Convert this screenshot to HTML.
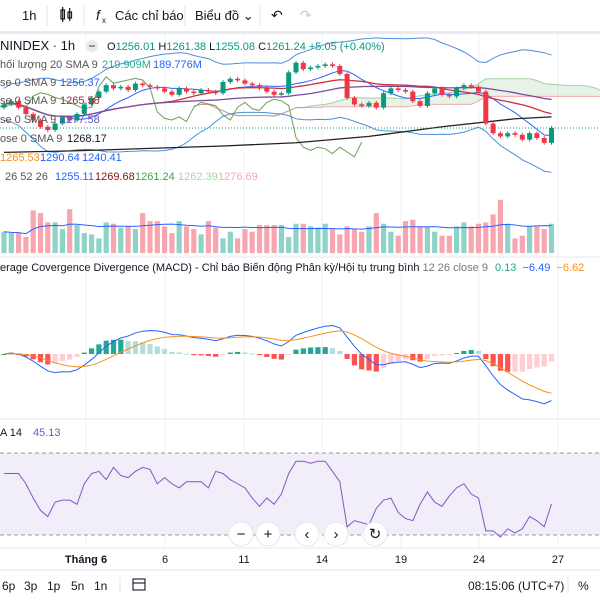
<!DOCTYPE html>
<html><head><meta charset="utf-8">
<style>
html,body{margin:0;padding:0;background:#fff;}
svg{display:block;font-family:"Liberation Sans","Noto Sans CJK SC",sans-serif;}
</style></head>
<body>
<svg id="chart" width="600" height="600" viewBox="0 0 600 600">
  <rect x="0" y="0" width="600" height="600" fill="#fff"/>
  <g font-size="13" fill="#131722">
    <text x="22" y="20">1h</text>
    <line x1="47" y1="6" x2="47" y2="26" stroke="#e0e3eb"/>
    <g stroke="#131722" fill="none" stroke-width="1.2">
      <rect x="61" y="10" width="3.5" height="9"/><line x1="62.7" y1="7" x2="62.7" y2="22"/>
      <rect x="68" y="12" width="3.5" height="6"/><line x1="69.7" y1="8" x2="69.7" y2="21"/>
    </g>
    <line x1="84" y1="6" x2="84" y2="26" stroke="#e0e3eb"/>
    <text x="96" y="20" font-style="italic" font-size="14">f</text>
    <text x="102" y="23" font-size="8">x</text>
    <text x="115" y="20">Các chỉ báo</text>
    <line x1="185" y1="6" x2="185" y2="26" stroke="#e0e3eb"/>
    <text x="195" y="20">Biểu đồ ⌄</text>
    <line x1="260" y1="6" x2="260" y2="26" stroke="#e0e3eb"/>
    <text x="271" y="20" font-size="14">↶</text>
    <text x="300" y="20" font-size="14" fill="#c8cad0">↷</text>
  </g>
  <rect x="0" y="31" width="600" height="3" fill="#e9eaef"/>
  <g id="grid"></g>
  <g id="main"></g>
  <g id="vol"></g>
  <g id="macd"></g>
  <g id="rsi"></g>
  <g font-size="11">
    <text x="0" y="50" font-size="13" fill="#131722">NINDEX · 1h</text>
    <circle cx="92" cy="46" r="6" fill="#e9eaef"/>
    <line x1="89" y1="46" x2="95" y2="46" stroke="#777" stroke-width="1.5"/>
    <text x="107" y="50" fill="#131722">O<tspan fill="#089981">1256.01</tspan> H<tspan fill="#089981">1261.38</tspan> L<tspan fill="#089981">1255.08</tspan> C<tspan fill="#089981">1261.24</tspan> <tspan fill="#089981">+5.05 (+0.40%)</tspan></text>
    <text x="0" y="68" fill="#555">hối lượng 20 SMA 9 <tspan x="102" fill="#22ab94">219.909M</tspan><tspan x="153" fill="#2962ff">189.776M</tspan></text>
    <text x="0" y="86" fill="#555">se 0 SMA 9 <tspan x="60" fill="#2962ff">1256.37</tspan></text>
    <text x="0" y="104" fill="#555">se 0 SMA 9 <tspan x="60" fill="#b22833">1265.58</tspan></text>
    <text x="0" y="123" fill="#555">se 0 SMA 9 <tspan x="60" fill="#5b55c0">1277.58</tspan></text>
    <text x="0" y="142" fill="#555">ose 0 SMA 9 <tspan x="67" fill="#131722">1268.17</tspan></text>
    <text x="0" y="161" fill="#f7931a">1265.53 <tspan x="40" fill="#2962ff">1290.64</tspan><tspan x="82" fill="#2962ff">1240.41</tspan></text>
    <text x="5" y="180" fill="#555">26 52 26 <tspan x="55" fill="#2962ff">1255.11</tspan><tspan x="95" fill="#801922">1269.68</tspan><tspan x="135" fill="#43a047">1261.24</tspan><tspan x="178" fill="#a5d6a7">1262.39</tspan><tspan x="218" fill="#f7a9b0">1276.69</tspan></text>
  </g>
  <text x="0" y="271" font-size="11" fill="#131722">erage Covergence Divergence (MACD) - Chỉ báo Biến động Phân kỳ/Hội tụ trung bình <tspan fill="#777">12 26 close 9</tspan> <tspan fill="#22ab94" dx="4">0.13</tspan> <tspan fill="#2962ff" dx="3">−6.49</tspan> <tspan fill="#f7931a" dx="3">−6.62</tspan></text>
  <text x="0" y="436" font-size="11" fill="#131722">A 14 <tspan x="33" fill="#7e57c2">45.13</tspan></text>
  <g font-size="11" fill="#131722" text-anchor="middle" id="xaxis"></g>
  <g id="nav"></g>
  <line x1="0" y1="570" x2="600" y2="570" stroke="#e0e3eb"/>
  <g font-size="12" fill="#131722">
    <text x="2" y="590">6p</text>
    <text x="24" y="590">3p</text>
    <text x="47" y="590">1p</text>
    <text x="71" y="590">5n</text>
    <text x="94" y="590">1n</text>
    <line x1="120" y1="577" x2="120" y2="594" stroke="#e0e3eb"/>
    <g stroke="#131722" fill="none" stroke-width="1.1">
      <rect x="133" y="579" width="12" height="11"/><line x1="133" y1="583" x2="145" y2="583"/>
    </g>
    <text x="468" y="590">08:15:06 (UTC+7)</text>
    <line x1="568" y1="577" x2="568" y2="594" stroke="#e0e3eb"/>
    <text x="578" y="590">%</text>
  </g>
</svg>
<script>
const closes=[1276,1278,1274,1270,1266,1262,1260,1264,1268,1266,1270,1276,1280,1284,1288,1286,1287,1285,1289,1288,1287,1286,1284,1282,1286,1284,1283,1285,1284,1283,1290,1292,1291,1289,1288,1286,1284,1282,1283,1296,1302,1298,1299,1300,1301,1300,1295,1280,1276,1275,1277,1274,1283,1286,1285,1284,1278,1275,1283,1286,1282,1281,1286,1288,1287,1284,1264,1258,1256,1258,1257,1254,1258,1255,1252,1261.24];
const volumes=[160,150,150,120,320,300,230,230,180,330,210,150,140,110,230,220,190,200,180,300,240,240,200,150,240,200,180,140,240,190,110,160,110,180,160,210,210,210,210,120,220,220,200,190,220,180,140,200,180,160,200,300,220,160,130,240,250,200,200,160,130,130,200,230,200,220,230,290,400,220,110,130,200,200,180,220];
const rsiValues=[60,60,60,55,48,42,39,46,47,47,45,55,60,61,57,63,59,58,61,63,62,55,58,55,53,56,56,56,53,61,60,57,55,53,48,44,48,45,50,60,66,66,65,66,66,61,56,34,37,36,35,43,47,48,41,38,37,45,51,46,44,49,53,55,50,48,32,32,29,33,31,33,39,37,34,45.13];
const longSmaIdx=[0,10,20,30,40,50,60,70,75];
const longSmaVals=[1246,1247,1248.5,1250,1252,1256,1262,1267,1268.17];
const xTicks=["Tháng 6","6","11","14","19","24","27"];
const xTickPos=[86,165,244,322,401,479,558];

const NS="http://www.w3.org/2000/svg";
function mk(parent,tag,attrs){const e=document.createElementNS(NS,tag);for(const k in attrs)e.setAttribute(k,attrs[k]);parent.appendChild(e);return e;}
const xs=i=>4+i*7.3;
const py=p=>128-(p-1261.24)*1.6;
const N=closes.length;
const opens=closes.map((c,i)=>i===0?1274:closes[i-1]);

const grid=document.getElementById('grid');
xTickPos.forEach(x=>{const l=mk(grid,'line',{x1:x,y1:34,x2:x,y2:548,stroke:'#f0f1f4'});

});
[257,419,548].forEach(y=>{const l=mk(grid,'line',{x1:0,y1:y,x2:600,y2:y,stroke:'#e6e7ec'});

});

const main=document.getElementById('main');
function sma(arr,n,i){let s=0,c=0;for(let k=Math.max(0,i-n+1);k<=i;k++){s+=arr[k];c++;}return s/c;}
function hh(i,n){let m=-1e9;for(let k=Math.max(0,i-n+1);k<=i;k++)m=Math.max(m,Math.max(opens[k],closes[k])+1);return m;}
function ll(i,n){let m=1e9;for(let k=Math.max(0,i-n+1);k<=i;k++)m=Math.min(m,Math.min(opens[k],closes[k])-1);return m;}

const spanA=[],spanB=[];
for(let i=0;i<N;i++){const t=(hh(i,9)+ll(i,9))/2,k=(hh(i,26)+ll(i,26))/2;spanA.push((t+k)/2);spanB.push((hh(i,52)+ll(i,52))/2);}
for(let i=0;i<N-1;i++){
  const x1=xs(i+26),x2=xs(i+27);
  const up=spanA[i]>=spanB[i];
  const pg=mk(main,'polygon',{points:`${x1},${py(spanA[i])} ${x2},${py(spanA[i+1])} ${x2},${py(spanB[i+1])} ${x1},${py(spanB[i])}`,fill:up?'rgba(67,160,71,0.13)':'rgba(242,54,69,0.12)'});
  
  
}
function line(parent,pts,color,w,name){const p=mk(parent,'polyline',{points:pts.map(q=>q.join(',')).join(' '),fill:'none',stroke:color,'stroke-width':w});

return p;}
line(main,spanA.map((v,i)=>[xs(i+26),py(v)]),'rgba(67,160,71,0.45)',1,'ichimoku-span-a');
line(main,spanB.map((v,i)=>[xs(i+26),py(v)]),'rgba(242,54,69,0.4)',1,'ichimoku-span-b');
line(main,closes.map((v,i)=>[xs(i-26),py(v)+14]),'#6a9f5b',1,'ichimoku-lagging-line');
const bbU=[],bbL=[];
for(let i=0;i<N;i++){const m=sma(closes,20,i);let s=0,c=0;for(let k=Math.max(0,i-19);k<=i;k++){s+=(closes[k]-m)**2;c++;}const sd=Math.sqrt(s/c)+5;bbU.push(m+2*sd);bbL.push(m-2*sd);}
line(main,bbU.map((v,i)=>[xs(i),py(v)]),'#4a90d9',1,'bollinger-upper');
line(main,bbL.map((v,i)=>[xs(i),py(v)]),'#4a90d9',1,'bollinger-lower');
line(main,closes.map((v,i)=>[xs(i),py(sma(closes,9,i))]),'#2962ff',1,'sma-fast');
line(main,closes.map((v,i)=>[xs(i),py(sma(closes,20,i))]),'#d0303d',1.3,'sma-mid');
line(main,closes.map((v,i)=>[xs(i),py(sma(closes,40,i))]),'#7b4fa0',1.3,'sma-slow');
line(main,longSmaIdx.map((k,j)=>[xs(k),py(longSmaVals[j])]),'#222',1.3,'sma-long');
const pl=mk(main,'line',{x1:0,y1:py(closes[N-1]),x2:600,y2:py(closes[N-1]),stroke:'#089981','stroke-dasharray':'1,2','stroke-width':1});


for(let i=0;i<N;i++){
  const o=opens[i],c=closes[i],up=c>=o,col=up?'#089981':'#f23645';
  const hi=Math.max(o,c)+1.2,lo=Math.min(o,c)-1.2;
  const w=mk(main,'line',{x1:xs(i),y1:py(hi),x2:xs(i),y2:py(lo),stroke:col});
  
  
  const top=py(Math.max(o,c)),h=Math.max(1,Math.abs(py(o)-py(c)));
  const r=mk(main,'rect',{x:xs(i)-2.5,y:top,width:5,height:h,fill:col});
  
  
}
const vol=document.getElementById('vol');
const vy=v=>253-v*0.133;
for(let i=0;i<N;i++){
  const up=closes[i]>=opens[i];
  const r=mk(vol,'rect',{x:xs(i)-2.6,y:vy(volumes[i]),width:5.2,height:253-vy(volumes[i]),fill:up?'#8dd3c7':'#f7a6b0'});
  
  
}
line(vol,volumes.map((v,i)=>[xs(i),vy(sma(volumes,20,i))]),'#2962ff',1,'volume-ma');

const macdPane=document.getElementById('macd');
function ema(arr,n){const k=2/(n+1);const out=[];arr.forEach((v,i)=>out.push(i===0?v:v*k+out[i-1]*(1-k)));return out;}
const e12=ema(closes,12),e26=ema(closes,26);
const macdLine=e12.map((v,i)=>v-e26[i]);
const signal=ema(macdLine,9);
const hist=macdLine.map((v,i)=>v-signal[i]);
const my=v=>354-v*6;
for(let i=0;i<N;i++){
  const h=hist[i],prev=i>0?hist[i-1]:0;
  let col=h>=0?(h>=prev?'#26a69a':'#b2dfdb'):(h<prev?'#ff5252':'#ffcdd2');
  const y1=Math.min(my(h),354),hh2=Math.max(1,Math.abs(my(h)-354));
  const r=mk(macdPane,'rect',{x:xs(i)-2.6,y:y1,width:5.2,height:hh2,fill:col});
  
  
}
line(macdPane,macdLine.map((v,i)=>[xs(i),my(v)]),'#2962ff',1,'macd-line');
line(macdPane,signal.map((v,i)=>[xs(i),my(v)]),'#f7931a',1,'macd-signal-line');

const rsiPane=document.getElementById('rsi');
const ry=v=>494-(v-50)*2.05;
const band=mk(rsiPane,'rect',{x:0,y:ry(70),width:600,height:ry(30)-ry(70),fill:'#f2eef9'});


[70,30].forEach(v=>{const l=mk(rsiPane,'line',{x1:0,y1:ry(v),x2:600,y2:ry(v),stroke:'#9598a1','stroke-dasharray':'4,3'});

});
line(rsiPane,rsiValues.map((v,i)=>[xs(i),ry(v)]),'#7e57c2',1,'rsi-line');

const xa=document.getElementById('xaxis');
xTicks.forEach((t,j)=>{const e=mk(xa,'text',{x:xTickPos[j],y:563});e.textContent=t;if(j===0)e.setAttribute('font-weight','bold');

});

const nav=document.getElementById('nav');
const navBtns=[[241,'−','zoom-out-button'],[268,'+','zoom-in-button'],[307,'‹','scroll-left-button'],[336,'›','scroll-right-button'],[375,'↻','reset-button']];
navBtns.forEach(b=>{
  const g=mk(nav,'g',{});
  
  
  mk(g,'circle',{cx:b[0],cy:534,r:12,fill:'#fff',stroke:'#e6e7ec'});
  const t=mk(g,'text',{x:b[0],y:539,'text-anchor':'middle','font-size':'15',fill:'#131722'});t.textContent=b[1];
});
</script>
</body></html>
